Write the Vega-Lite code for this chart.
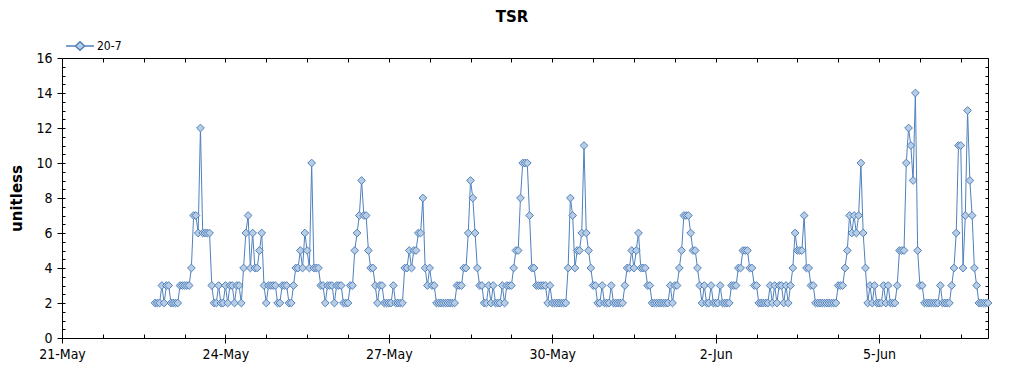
{
  "$schema": "https://vega.github.io/schema/vega-lite/v6.json",
  "width": 926,
  "height": 280,
  "autosize": {"type": "none"},
  "padding": {"left": 62, "top": 58, "right": 36, "bottom": 37},
  "background": "white",
  "title": {"text": "TSR", "font": "DejaVu Sans", "fontSize": 15, "fontWeight": "bold", "color": "black", "anchor": "middle", "frame": "group", "dx": -13, "offset": 6},
  "config": {"view": {"stroke": null}, "axis": {"grid": false, "tickColor": "black", "domainColor": "black", "labelColor": "black", "titleColor": "black"}},
  "data": {"values": [
    {"t":"2024-05-22T17:00","v":2},{"t":"2024-05-22T18:00","v":2},{"t":"2024-05-22T19:00","v":2},{"t":"2024-05-22T20:00","v":3},{"t":"2024-05-22T21:00","v":2},{"t":"2024-05-22T22:00","v":3},{"t":"2024-05-22T23:00","v":3},
    {"t":"2024-05-23T00:00","v":2},{"t":"2024-05-23T01:00","v":2},{"t":"2024-05-23T02:00","v":2},{"t":"2024-05-23T03:00","v":2},{"t":"2024-05-23T04:00","v":3},{"t":"2024-05-23T05:00","v":3},{"t":"2024-05-23T06:00","v":3},{"t":"2024-05-23T07:00","v":3},{"t":"2024-05-23T08:00","v":3},{"t":"2024-05-23T09:00","v":4},{"t":"2024-05-23T10:00","v":7},{"t":"2024-05-23T11:00","v":7},{"t":"2024-05-23T12:00","v":6},{"t":"2024-05-23T13:00","v":12},{"t":"2024-05-23T14:00","v":6},{"t":"2024-05-23T15:00","v":6},{"t":"2024-05-23T16:00","v":6},{"t":"2024-05-23T17:00","v":6},{"t":"2024-05-23T18:00","v":3},{"t":"2024-05-23T19:00","v":2},{"t":"2024-05-23T20:00","v":2},{"t":"2024-05-23T21:00","v":3},{"t":"2024-05-23T22:00","v":2},{"t":"2024-05-23T23:00","v":2},
    {"t":"2024-05-24T00:00","v":3},{"t":"2024-05-24T01:00","v":2},{"t":"2024-05-24T02:00","v":3},{"t":"2024-05-24T03:00","v":3},{"t":"2024-05-24T04:00","v":2},{"t":"2024-05-24T05:00","v":3},{"t":"2024-05-24T06:00","v":3},{"t":"2024-05-24T07:00","v":2},{"t":"2024-05-24T08:00","v":4},{"t":"2024-05-24T09:00","v":6},{"t":"2024-05-24T10:00","v":7},{"t":"2024-05-24T11:00","v":4},{"t":"2024-05-24T12:00","v":6},{"t":"2024-05-24T13:00","v":4},{"t":"2024-05-24T14:00","v":4},{"t":"2024-05-24T15:00","v":5},{"t":"2024-05-24T16:00","v":6},{"t":"2024-05-24T17:00","v":3},{"t":"2024-05-24T18:00","v":2},{"t":"2024-05-24T19:00","v":3},{"t":"2024-05-24T20:00","v":3},{"t":"2024-05-24T21:00","v":3},{"t":"2024-05-24T22:00","v":3},{"t":"2024-05-24T23:00","v":2},
    {"t":"2024-05-25T00:00","v":2},{"t":"2024-05-25T01:00","v":3},{"t":"2024-05-25T02:00","v":3},{"t":"2024-05-25T03:00","v":3},{"t":"2024-05-25T04:00","v":2},{"t":"2024-05-25T05:00","v":2},{"t":"2024-05-25T06:00","v":3},{"t":"2024-05-25T07:00","v":4},{"t":"2024-05-25T08:00","v":4},{"t":"2024-05-25T09:00","v":5},{"t":"2024-05-25T10:00","v":4},{"t":"2024-05-25T11:00","v":6},{"t":"2024-05-25T12:00","v":5},{"t":"2024-05-25T13:00","v":4},{"t":"2024-05-25T14:00","v":10},{"t":"2024-05-25T15:00","v":4},{"t":"2024-05-25T16:00","v":4},{"t":"2024-05-25T17:00","v":4},{"t":"2024-05-25T18:00","v":3},{"t":"2024-05-25T19:00","v":3},{"t":"2024-05-25T20:00","v":2},{"t":"2024-05-25T21:00","v":3},{"t":"2024-05-25T22:00","v":3},{"t":"2024-05-25T23:00","v":3},
    {"t":"2024-05-26T00:00","v":2},{"t":"2024-05-26T01:00","v":3},{"t":"2024-05-26T02:00","v":3},{"t":"2024-05-26T03:00","v":3},{"t":"2024-05-26T04:00","v":2},{"t":"2024-05-26T05:00","v":2},{"t":"2024-05-26T06:00","v":2},{"t":"2024-05-26T07:00","v":3},{"t":"2024-05-26T08:00","v":3},{"t":"2024-05-26T09:00","v":5},{"t":"2024-05-26T10:00","v":6},{"t":"2024-05-26T11:00","v":7},{"t":"2024-05-26T12:00","v":9},{"t":"2024-05-26T13:00","v":7},{"t":"2024-05-26T14:00","v":7},{"t":"2024-05-26T15:00","v":5},{"t":"2024-05-26T16:00","v":4},{"t":"2024-05-26T17:00","v":4},{"t":"2024-05-26T18:00","v":3},{"t":"2024-05-26T19:00","v":2},{"t":"2024-05-26T20:00","v":3},{"t":"2024-05-26T21:00","v":3},{"t":"2024-05-26T22:00","v":2},{"t":"2024-05-26T23:00","v":2},
    {"t":"2024-05-27T00:00","v":2},{"t":"2024-05-27T01:00","v":2},{"t":"2024-05-27T02:00","v":3},{"t":"2024-05-27T03:00","v":2},{"t":"2024-05-27T04:00","v":2},{"t":"2024-05-27T05:00","v":2},{"t":"2024-05-27T06:00","v":2},{"t":"2024-05-27T07:00","v":4},{"t":"2024-05-27T08:00","v":4},{"t":"2024-05-27T09:00","v":5},{"t":"2024-05-27T10:00","v":4},{"t":"2024-05-27T11:00","v":5},{"t":"2024-05-27T12:00","v":5},{"t":"2024-05-27T13:00","v":6},{"t":"2024-05-27T14:00","v":6},{"t":"2024-05-27T15:00","v":8},{"t":"2024-05-27T16:00","v":4},{"t":"2024-05-27T17:00","v":3},{"t":"2024-05-27T18:00","v":4},{"t":"2024-05-27T19:00","v":3},{"t":"2024-05-27T20:00","v":3},{"t":"2024-05-27T21:00","v":2},{"t":"2024-05-27T22:00","v":2},{"t":"2024-05-27T23:00","v":2},
    {"t":"2024-05-28T00:00","v":2},{"t":"2024-05-28T01:00","v":2},{"t":"2024-05-28T02:00","v":2},{"t":"2024-05-28T03:00","v":2},{"t":"2024-05-28T04:00","v":2},{"t":"2024-05-28T05:00","v":2},{"t":"2024-05-28T06:00","v":3},{"t":"2024-05-28T07:00","v":3},{"t":"2024-05-28T08:00","v":3},{"t":"2024-05-28T09:00","v":4},{"t":"2024-05-28T10:00","v":4},{"t":"2024-05-28T11:00","v":6},{"t":"2024-05-28T12:00","v":9},{"t":"2024-05-28T13:00","v":8},{"t":"2024-05-28T14:00","v":6},{"t":"2024-05-28T15:00","v":4},{"t":"2024-05-28T16:00","v":3},{"t":"2024-05-28T17:00","v":3},{"t":"2024-05-28T18:00","v":2},{"t":"2024-05-28T19:00","v":2},{"t":"2024-05-28T20:00","v":3},{"t":"2024-05-28T21:00","v":2},{"t":"2024-05-28T22:00","v":3},{"t":"2024-05-28T23:00","v":2},
    {"t":"2024-05-29T00:00","v":2},{"t":"2024-05-29T01:00","v":2},{"t":"2024-05-29T02:00","v":3},{"t":"2024-05-29T03:00","v":2},{"t":"2024-05-29T04:00","v":3},{"t":"2024-05-29T05:00","v":3},{"t":"2024-05-29T06:00","v":3},{"t":"2024-05-29T07:00","v":4},{"t":"2024-05-29T08:00","v":5},{"t":"2024-05-29T09:00","v":5},{"t":"2024-05-29T10:00","v":8},{"t":"2024-05-29T11:00","v":10},{"t":"2024-05-29T12:00","v":10},{"t":"2024-05-29T13:00","v":10},{"t":"2024-05-29T14:00","v":7},{"t":"2024-05-29T15:00","v":4},{"t":"2024-05-29T16:00","v":4},{"t":"2024-05-29T17:00","v":3},{"t":"2024-05-29T18:00","v":3},{"t":"2024-05-29T19:00","v":3},{"t":"2024-05-29T20:00","v":3},{"t":"2024-05-29T21:00","v":3},{"t":"2024-05-29T22:00","v":2},{"t":"2024-05-29T23:00","v":3},
    {"t":"2024-05-30T00:00","v":2},{"t":"2024-05-30T01:00","v":2},{"t":"2024-05-30T02:00","v":2},{"t":"2024-05-30T03:00","v":2},{"t":"2024-05-30T04:00","v":2},{"t":"2024-05-30T05:00","v":2},{"t":"2024-05-30T06:00","v":2},{"t":"2024-05-30T07:00","v":4},{"t":"2024-05-30T08:00","v":8},{"t":"2024-05-30T09:00","v":7},{"t":"2024-05-30T10:00","v":4},{"t":"2024-05-30T11:00","v":5},{"t":"2024-05-30T12:00","v":5},{"t":"2024-05-30T13:00","v":6},{"t":"2024-05-30T14:00","v":11},{"t":"2024-05-30T15:00","v":6},{"t":"2024-05-30T16:00","v":5},{"t":"2024-05-30T17:00","v":4},{"t":"2024-05-30T18:00","v":3},{"t":"2024-05-30T19:00","v":3},{"t":"2024-05-30T20:00","v":2},{"t":"2024-05-30T21:00","v":2},{"t":"2024-05-30T22:00","v":3},{"t":"2024-05-30T23:00","v":2},
    {"t":"2024-05-31T00:00","v":2},{"t":"2024-05-31T01:00","v":2},{"t":"2024-05-31T02:00","v":3},{"t":"2024-05-31T03:00","v":2},{"t":"2024-05-31T04:00","v":2},{"t":"2024-05-31T05:00","v":2},{"t":"2024-05-31T06:00","v":2},{"t":"2024-05-31T07:00","v":2},{"t":"2024-05-31T08:00","v":3},{"t":"2024-05-31T09:00","v":4},{"t":"2024-05-31T10:00","v":4},{"t":"2024-05-31T11:00","v":5},{"t":"2024-05-31T12:00","v":4},{"t":"2024-05-31T13:00","v":5},{"t":"2024-05-31T14:00","v":6},{"t":"2024-05-31T15:00","v":4},{"t":"2024-05-31T16:00","v":4},{"t":"2024-05-31T17:00","v":4},{"t":"2024-05-31T18:00","v":3},{"t":"2024-05-31T19:00","v":3},{"t":"2024-05-31T20:00","v":2},{"t":"2024-05-31T21:00","v":2},{"t":"2024-05-31T22:00","v":2},{"t":"2024-05-31T23:00","v":2},
    {"t":"2024-06-01T00:00","v":2},{"t":"2024-06-01T01:00","v":2},{"t":"2024-06-01T02:00","v":2},{"t":"2024-06-01T03:00","v":2},{"t":"2024-06-01T04:00","v":3},{"t":"2024-06-01T05:00","v":2},{"t":"2024-06-01T06:00","v":3},{"t":"2024-06-01T07:00","v":3},{"t":"2024-06-01T08:00","v":4},{"t":"2024-06-01T09:00","v":5},{"t":"2024-06-01T10:00","v":7},{"t":"2024-06-01T11:00","v":7},{"t":"2024-06-01T12:00","v":7},{"t":"2024-06-01T13:00","v":6},{"t":"2024-06-01T14:00","v":5},{"t":"2024-06-01T15:00","v":5},{"t":"2024-06-01T16:00","v":4},{"t":"2024-06-01T17:00","v":3},{"t":"2024-06-01T18:00","v":2},{"t":"2024-06-01T19:00","v":3},{"t":"2024-06-01T20:00","v":2},{"t":"2024-06-01T21:00","v":2},{"t":"2024-06-01T22:00","v":3},{"t":"2024-06-01T23:00","v":2},
    {"t":"2024-06-02T00:00","v":2},{"t":"2024-06-02T01:00","v":2},{"t":"2024-06-02T02:00","v":3},{"t":"2024-06-02T03:00","v":2},{"t":"2024-06-02T04:00","v":2},{"t":"2024-06-02T05:00","v":2},{"t":"2024-06-02T06:00","v":2},{"t":"2024-06-02T07:00","v":3},{"t":"2024-06-02T08:00","v":3},{"t":"2024-06-02T09:00","v":3},{"t":"2024-06-02T10:00","v":4},{"t":"2024-06-02T11:00","v":4},{"t":"2024-06-02T12:00","v":5},{"t":"2024-06-02T13:00","v":5},{"t":"2024-06-02T14:00","v":5},{"t":"2024-06-02T15:00","v":4},{"t":"2024-06-02T16:00","v":4},{"t":"2024-06-02T17:00","v":3},{"t":"2024-06-02T18:00","v":3},{"t":"2024-06-02T19:00","v":2},{"t":"2024-06-02T20:00","v":2},{"t":"2024-06-02T21:00","v":2},{"t":"2024-06-02T22:00","v":2},{"t":"2024-06-02T23:00","v":2},
    {"t":"2024-06-03T00:00","v":3},{"t":"2024-06-03T01:00","v":2},{"t":"2024-06-03T02:00","v":3},{"t":"2024-06-03T03:00","v":2},{"t":"2024-06-03T04:00","v":3},{"t":"2024-06-03T05:00","v":3},{"t":"2024-06-03T06:00","v":2},{"t":"2024-06-03T07:00","v":3},{"t":"2024-06-03T08:00","v":2},{"t":"2024-06-03T09:00","v":3},{"t":"2024-06-03T10:00","v":4},{"t":"2024-06-03T11:00","v":6},{"t":"2024-06-03T12:00","v":5},{"t":"2024-06-03T13:00","v":5},{"t":"2024-06-03T14:00","v":5},{"t":"2024-06-03T15:00","v":7},{"t":"2024-06-03T16:00","v":4},{"t":"2024-06-03T17:00","v":4},{"t":"2024-06-03T18:00","v":3},{"t":"2024-06-03T19:00","v":3},{"t":"2024-06-03T20:00","v":2},{"t":"2024-06-03T21:00","v":2},{"t":"2024-06-03T22:00","v":2},{"t":"2024-06-03T23:00","v":2},
    {"t":"2024-06-04T00:00","v":2},{"t":"2024-06-04T01:00","v":2},{"t":"2024-06-04T02:00","v":2},{"t":"2024-06-04T03:00","v":2},{"t":"2024-06-04T04:00","v":2},{"t":"2024-06-04T05:00","v":2},{"t":"2024-06-04T06:00","v":3},{"t":"2024-06-04T07:00","v":3},{"t":"2024-06-04T08:00","v":3},{"t":"2024-06-04T09:00","v":4},{"t":"2024-06-04T10:00","v":5},{"t":"2024-06-04T11:00","v":7},{"t":"2024-06-04T12:00","v":6},{"t":"2024-06-04T13:00","v":7},{"t":"2024-06-04T14:00","v":6},{"t":"2024-06-04T15:00","v":7},{"t":"2024-06-04T16:00","v":10},{"t":"2024-06-04T17:00","v":6},{"t":"2024-06-04T18:00","v":4},{"t":"2024-06-04T19:00","v":2},{"t":"2024-06-04T20:00","v":3},{"t":"2024-06-04T21:00","v":2},{"t":"2024-06-04T22:00","v":3},{"t":"2024-06-04T23:00","v":2},
    {"t":"2024-06-05T00:00","v":2},{"t":"2024-06-05T01:00","v":2},{"t":"2024-06-05T02:00","v":3},{"t":"2024-06-05T03:00","v":2},{"t":"2024-06-05T04:00","v":3},{"t":"2024-06-05T05:00","v":2},{"t":"2024-06-05T06:00","v":2},{"t":"2024-06-05T07:00","v":2},{"t":"2024-06-05T08:00","v":3},{"t":"2024-06-05T09:00","v":5},{"t":"2024-06-05T10:00","v":5},{"t":"2024-06-05T11:00","v":5},{"t":"2024-06-05T12:00","v":10},{"t":"2024-06-05T13:00","v":12},{"t":"2024-06-05T14:00","v":11},{"t":"2024-06-05T15:00","v":9},{"t":"2024-06-05T16:00","v":14},{"t":"2024-06-05T17:00","v":5},{"t":"2024-06-05T18:00","v":3},{"t":"2024-06-05T19:00","v":3},{"t":"2024-06-05T20:00","v":2},{"t":"2024-06-05T21:00","v":2},{"t":"2024-06-05T22:00","v":2},{"t":"2024-06-05T23:00","v":2},
    {"t":"2024-06-06T00:00","v":2},{"t":"2024-06-06T01:00","v":2},{"t":"2024-06-06T02:00","v":2},{"t":"2024-06-06T03:00","v":3},{"t":"2024-06-06T04:00","v":2},{"t":"2024-06-06T05:00","v":2},{"t":"2024-06-06T06:00","v":2},{"t":"2024-06-06T07:00","v":2},{"t":"2024-06-06T08:00","v":3},{"t":"2024-06-06T09:00","v":4},{"t":"2024-06-06T10:00","v":6},{"t":"2024-06-06T11:00","v":11},{"t":"2024-06-06T12:00","v":11},{"t":"2024-06-06T13:00","v":4},{"t":"2024-06-06T14:00","v":7},{"t":"2024-06-06T15:00","v":13},{"t":"2024-06-06T16:00","v":9},{"t":"2024-06-06T17:00","v":7},{"t":"2024-06-06T18:00","v":4},{"t":"2024-06-06T19:00","v":3},{"t":"2024-06-06T20:00","v":2},{"t":"2024-06-06T21:00","v":2},{"t":"2024-06-06T22:00","v":2},{"t":"2024-06-06T23:00","v":2},
    {"t":"2024-06-07T00:00","v":2}
  ]},
  "resolve": {"axis": {"x": "independent", "y": "independent"}},
  "layer": [
    {
      "mark": {"type": "line", "color": "#4F81BD", "strokeWidth": 1},
      "encoding": {
        "x": {"field": "t", "type": "temporal",
          "scale": {"domain": [{"year": 2024, "month": 5, "date": 21}, {"year": 2024, "month": 6, "date": 7}]},
          "axis": {"orient": "bottom", "title": null, "format": "%-d-%b", "values": [{"year": 2024, "month": 5, "date": 21}, {"year": 2024, "month": 5, "date": 24}, {"year": 2024, "month": 5, "date": 27}, {"year": 2024, "month": 5, "date": 30}, {"year": 2024, "month": 6, "date": 2}, {"year": 2024, "month": 6, "date": 5}],
            "labelFont": "DejaVu Sans Condensed, Liberation Sans Narrow, Liberation Sans", "labelFontSize": 14, "labelPadding": 4, "tickSize": 5, "labelOverlap": false, "labelFlush": false}},
        "y": {"field": "v", "type": "quantitative",
          "scale": {"domain": [0, 16], "nice": false, "zero": true},
          "axis": {"orient": "left", "values": [0, 2, 4, 6, 8, 10, 12, 14, 16], "tickSize": 5, "labelPadding": 5,
            "labelFont": "DejaVu Sans Condensed, Liberation Sans Narrow, Liberation Sans", "labelFontSize": 14,
            "title": "unitless", "titleFont": "DejaVu Sans", "titleFontSize": 15, "titleFontWeight": "bold", "titleX": -38, "titleY": 140, "titleAngle": -90, "titleAlign": "center", "titleBaseline": "bottom"}}
      }
    },
    {
      "mark": {"type": "point", "shape": "diamond", "size": 60, "filled": true, "fill": "#B8CCE4", "strokeWidth": 1, "opacity": 1},
      "encoding": {
        "x": {"field": "t", "type": "temporal", "axis": null},
        "y": {"field": "v", "type": "quantitative", "axis": null},
        "stroke": {"datum": "20-7", "scale": {"range": ["#4F81BD"]},
          "legend": {"orient": "none", "legendX": 3, "legendY": -27, "title": null, "padding": 0,
            "symbolType": "M-1,0L-0.33,0M0.33,0L1,0M-0.33,0L0,-0.3L0.33,0L0,0.3Z", "symbolSize": 784,
            "labelFont": "DejaVu Sans Condensed, Liberation Sans Narrow, Liberation Sans", "labelFontSize": 12, "labelColor": "black", "labelOffset": 2,
            "encode": {"symbols": {"update": {"fill": {"value": "#B8CCE4"}, "stroke": {"value": "#4F81BD"}, "strokeWidth": {"value": 1}, "opacity": {"value": 1}}}}}}
      }
    },
    {
      "mark": {"type": "point", "opacity": 0},
      "encoding": {
        "x": {"field": "t", "type": "temporal",
          "axis": {"orient": "bottom", "title": null, "labels": false, "domain": false, "tickSize": -4,
            "values": [{"year": 2024, "month": 5, "date": 21, "hours": 0}, {"year": 2024, "month": 5, "date": 21, "hours": 18}, {"year": 2024, "month": 5, "date": 22, "hours": 12}, {"year": 2024, "month": 5, "date": 23, "hours": 6}, {"year": 2024, "month": 5, "date": 24, "hours": 0}, {"year": 2024, "month": 5, "date": 24, "hours": 18}, {"year": 2024, "month": 5, "date": 25, "hours": 12}, {"year": 2024, "month": 5, "date": 26, "hours": 6}, {"year": 2024, "month": 5, "date": 27, "hours": 0}, {"year": 2024, "month": 5, "date": 27, "hours": 18}, {"year": 2024, "month": 5, "date": 28, "hours": 12}, {"year": 2024, "month": 5, "date": 29, "hours": 6}, {"year": 2024, "month": 5, "date": 30, "hours": 0}, {"year": 2024, "month": 5, "date": 30, "hours": 18}, {"year": 2024, "month": 5, "date": 31, "hours": 12}, {"year": 2024, "month": 6, "date": 1, "hours": 6}, {"year": 2024, "month": 6, "date": 2, "hours": 0}, {"year": 2024, "month": 6, "date": 2, "hours": 18}, {"year": 2024, "month": 6, "date": 3, "hours": 12}, {"year": 2024, "month": 6, "date": 4, "hours": 6}, {"year": 2024, "month": 6, "date": 5, "hours": 0}, {"year": 2024, "month": 6, "date": 5, "hours": 18}, {"year": 2024, "month": 6, "date": 6, "hours": 12}]}},
        "y": {"field": "v", "type": "quantitative",
          "axis": {"orient": "left", "title": null, "labels": false, "domain": false, "tickSize": -3,
            "values": [0, 0.5, 1, 1.5, 2, 2.5, 3, 3.5, 4, 4.5, 5, 5.5, 6, 6.5, 7, 7.5, 8, 8.5, 9, 9.5, 10, 10.5, 11, 11.5, 12, 12.5, 13, 13.5, 14, 14.5, 15, 15.5, 16]}}
      }
    },
    {
      "mark": {"type": "point", "opacity": 0},
      "encoding": {
        "x": {"field": "t", "type": "temporal",
          "axis": {"orient": "top", "title": null, "labels": false, "domain": true, "tickSize": -4,
            "values": [{"year": 2024, "month": 5, "date": 21, "hours": 0}, {"year": 2024, "month": 5, "date": 21, "hours": 18}, {"year": 2024, "month": 5, "date": 22, "hours": 12}, {"year": 2024, "month": 5, "date": 23, "hours": 6}, {"year": 2024, "month": 5, "date": 24, "hours": 0}, {"year": 2024, "month": 5, "date": 24, "hours": 18}, {"year": 2024, "month": 5, "date": 25, "hours": 12}, {"year": 2024, "month": 5, "date": 26, "hours": 6}, {"year": 2024, "month": 5, "date": 27, "hours": 0}, {"year": 2024, "month": 5, "date": 27, "hours": 18}, {"year": 2024, "month": 5, "date": 28, "hours": 12}, {"year": 2024, "month": 5, "date": 29, "hours": 6}, {"year": 2024, "month": 5, "date": 30, "hours": 0}, {"year": 2024, "month": 5, "date": 30, "hours": 18}, {"year": 2024, "month": 5, "date": 31, "hours": 12}, {"year": 2024, "month": 6, "date": 1, "hours": 6}, {"year": 2024, "month": 6, "date": 2, "hours": 0}, {"year": 2024, "month": 6, "date": 2, "hours": 18}, {"year": 2024, "month": 6, "date": 3, "hours": 12}, {"year": 2024, "month": 6, "date": 4, "hours": 6}, {"year": 2024, "month": 6, "date": 5, "hours": 0}, {"year": 2024, "month": 6, "date": 5, "hours": 18}, {"year": 2024, "month": 6, "date": 6, "hours": 12}]}},
        "y": {"field": "v", "type": "quantitative",
          "axis": {"orient": "right", "title": null, "labels": false, "domain": true, "tickSize": -3,
            "values": [0, 0.5, 1, 1.5, 2, 2.5, 3, 3.5, 4, 4.5, 5, 5.5, 6, 6.5, 7, 7.5, 8, 8.5, 9, 9.5, 10, 10.5, 11, 11.5, 12, 12.5, 13, 13.5, 14, 14.5, 15, 15.5, 16]}}
      }
    }
  ]
}
